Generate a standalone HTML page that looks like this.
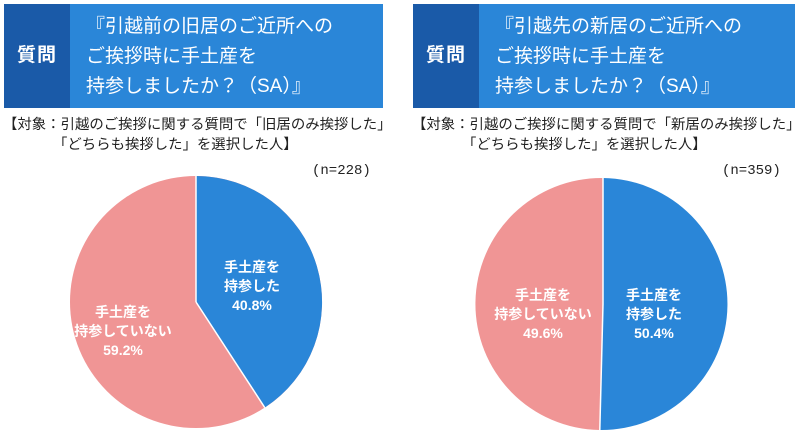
<!DOCTYPE html>
<html><head><meta charset="utf-8"><style>
body{margin:0;width:800px;height:437px;background:#fff;position:relative;overflow:hidden;font-family:"Liberation Sans","Noto Sans CJK JP",sans-serif;}
.hd{position:absolute;top:4px;height:104px;background:#2a86d8;color:#fff;}
.q{position:absolute;left:0;top:0;width:66px;height:104px;background:#1a5aa8;font-size:19px;font-weight:bold;line-height:104px;text-align:center;letter-spacing:1px}
.t{position:absolute;left:82px;top:8px;font-size:19px;line-height:30px;white-space:nowrap}
.sub{position:absolute;font-size:14.4px;line-height:20px;color:#222;white-space:nowrap}
.n{position:absolute;font-size:14px;color:#222;font-family:"Liberation Mono","Noto Sans CJK JP",monospace}
</style></head><body>
<div class="hd" style="left:4px;width:379px"><div class="q">質問</div><div class="t">『引越前の旧居のご近所への<br>ご挨拶時に手土産を<br>持参しましたか？（SA）』</div></div>
<div class="hd" style="left:413px;width:382px"><div class="q">質問</div><div class="t">『引越先の新居のご近所への<br>ご挨拶時に手土産を<br>持参しましたか？（SA）』</div></div>
<div class="sub" style="left:3px;top:115px">【対象：引越のご挨拶に関する質問で「旧居のみ挨拶した」<br><span style="padding-left:50px">「どちらも挨拶した」を選択した人】</span></div>
<div class="sub" style="left:412px;top:115px">【対象：引越のご挨拶に関する質問で「新居のみ挨拶した」<br><span style="padding-left:50px">「どちらも挨拶した」を選択した人】</span></div>
<div class="n" style="left:312px;top:163px">(n=228)</div>
<div class="n" style="left:722px;top:163px">(n=359)</div>
<svg width="800" height="437" style="position:absolute;left:0;top:0">
<circle cx="196" cy="302" r="126" fill="#f09595"/>
<path d="M196,302 L196,176 A126,126 0 0 1 264.8,407.6 Z" fill="#2a86d8"/>
<line x1="196" y1="302" x2="196" y2="176" stroke="#fff" stroke-width="1.5"/>
<line x1="196" y1="302" x2="264.8" y2="407.6" stroke="#fff" stroke-width="1.5"/>
<path d="M603,304 L599.8,430 A126,126 0 0 1 603,178 Z" fill="#f09595"/>
<path d="M603,304 L603,178 A126,126 0 1 1 599.8,430 Z" fill="#2a86d8"/>
<line x1="603" y1="304" x2="603" y2="178" stroke="#fff" stroke-width="1.5"/>
<line x1="603" y1="304" x2="599.8" y2="430" stroke="#fff" stroke-width="1.5"/>
<g fill="#fff" font-size="14" font-weight="bold" text-anchor="middle" font-family="Liberation Sans, Noto Sans CJK JP, sans-serif">
<text x="252" y="272">手土産を</text><text x="252" y="291">持参した</text><text x="252" y="310">40.8%</text>
<text x="123" y="317">手土産を</text><text x="123" y="336">持参していない</text><text x="123" y="355">59.2%</text>
<text x="654" y="300">手土産を</text><text x="654" y="319">持参した</text><text x="654" y="338">50.4%</text>
<text x="543" y="300">手土産を</text><text x="543" y="319">持参していない</text><text x="543" y="338">49.6%</text>
</g></svg>
</body></html>
